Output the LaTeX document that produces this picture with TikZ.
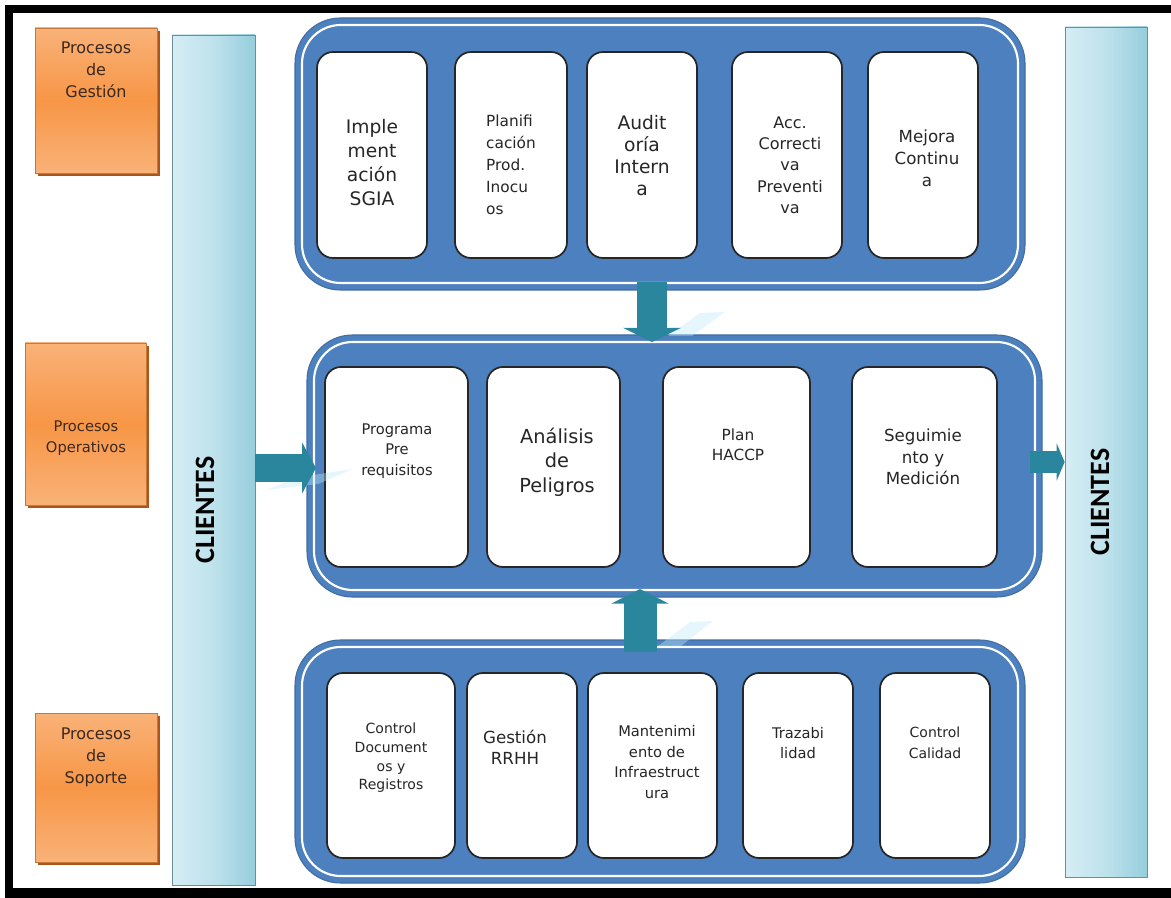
\documentclass[tikz,border=0pt]{standalone}
\usepackage{fontspec}
\setmainfont{DejaVu Sans}
\newfontfamily\clifont{Carlito}
\usetikzlibrary{positioning,arrows.meta,fit,calc}
\definecolor{procblue}{RGB}{76,128,190}
\definecolor{orgtop}{RGB}{249,178,120}
\definecolor{orgmid}{RGB}{247,150,70}
\definecolor{orgshadow}{RGB}{170,85,25}
\definecolor{orgtext}{RGB}{60,40,30}
\definecolor{cliL}{RGB}{214,237,244}
\definecolor{cliM}{RGB}{190,226,236}
\definecolor{cliR}{RGB}{150,205,221}
\definecolor{arrowteal}{RGB}{42,134,156}
\tikzset{
container/.style={
  fill=procblue,
  draw=procblue!85!black,
  line width=0.8pt,
  rounded corners=34pt,
  inner sep=0pt
  },
rim/.style={draw=white, line width=1.6pt, rounded corners=29pt, inner sep=0pt},
inbox/.style={fill=white, draw=black!85, line width=1.3pt, rounded corners=12pt, inner sep=0pt},
orgbox/.style={top color=orgtop, bottom color=orgtop, middle color=orgmid, draw=orgmid!80!black, line width=0.4pt, inner sep=0pt},
orgshade/.style={fill=orgshadow, inner sep=0pt},
clibar/.style={left color=cliL, right color=cliR, middle color=cliM, draw=cliR!70!black, line width=0.5pt, inner sep=0pt},
flow/.style={draw=arrowteal},
gleam/.style={fill=cyan!25, opacity=0.4, draw=none},
lbl/.style={align=center, inner sep=0pt, text=black!85}
}

\begin{document}
\begin{tikzpicture}[x=0.75pt,y=0.75pt,yscale=-1,xscale=1]
\useasboundingbox (0,0) rectangle (1171,898);

% frame
\draw [line width=6pt] (9,898) -- (9,9) -- (1171,9) ;
\draw [line width=7pt] (9,893) -- (1171,893) ;

% process types
\node [orgshade, fit={(38,31) (160,176)}] (shg) {};
\node [orgbox, fit={(35,28) (157,173)}] (pg) {};
\node [orgshade, fit={(28,346) (149,508)}] (sho) {};
\node [orgbox, fit={(25,343) (146,505)}] (po) {};
\node [orgshade, fit={(38,716) (160,865)}] (shs) {};
\node [orgbox, fit={(35,713) (157,862)}] (ps) {};
\node [lbl, text=orgtext, font=\fontsize{12}{16.5}\selectfont] (pgt) at (96,70) {Procesos\\de\\Gestión};
\node [lbl, text=orgtext, font=\fontsize{11}{15.8}\selectfont] (pot) at (86,438) {Procesos\\Operativos};
\node [lbl, text=orgtext, font=\fontsize{12}{16.5}\selectfont] (pst) at (96,757) {Procesos\\de\\Soporte};

% clients
\node [clibar, fit={(172,35) (255,885)}] (cliA) {};
\node [clibar, fit={(1065,27) (1147,877)}] (cliB) {};
\node [font=\clifont\bfseries\fontsize{21}{21}\selectfont, rotate=90, inner sep=0pt] (cliAt) at (205,510) {CLIENTES};
\node [font=\clifont\bfseries\fontsize{21}{21}\selectfont, rotate=90, inner sep=0pt] (cliBt) at (1100,502) {CLIENTES};

% containers
\node [container, fit={(295,18) (1025,290)}] (gest) {};
\node [rim, fit={(302,25) (1018,283)}] (gestr) {};
\node [container, fit={(307,335) (1042,597)}] (oper) {};
\node [rim, fit={(314,342) (1035,590)}] (operr) {};
\node [container, fit={(295,640) (1025,883)}] (sop) {};
\node [rim, fit={(302,647) (1018,876)}] (sopr) {};

% gestion
\node [inbox, fit={(317,52) (427,258)}] (g1) {};
\node [inbox, fit={(455,52) (567,258)}] (g2) {};
\node [inbox, fit={(587,52) (697,258)}] (g3) {};
\node [inbox, fit={(732,52) (842,258)}] (g4) {};
\node [inbox, fit={(868,52) (978,258)}] (g5) {};
\node [lbl, font=\fontsize{14}{18}\selectfont] (g1t) at (372,163) {Imple\\ment\\ación\\SGIA};
\node [lbl, align=left, font=\fontsize{11.5}{16.5}\selectfont] (g2t) at (511,165) {Planifi\\cación\\Prod.\\Inocu\\os};
\node [lbl, font=\fontsize{14}{16.5}\selectfont] (g3t) at (642,156) {Audit\\oría\\Intern\\a};
\node [lbl, font=\fontsize{12}{16}\selectfont] (g4t) at (790,165) {Acc.\\Correcti\\va\\Preventi\\va};
\node [lbl, font=\fontsize{12.5}{16.5}\selectfont] (g5t) at (927,158) {Mejora\\Continu\\a};

% operativos
\node [inbox, fit={(325,367) (468,567)}] (o1) {};
\node [inbox, fit={(487,367) (620,567)}] (o2) {};
\node [inbox, fit={(663,367) (810,567)}] (o3) {};
\node [inbox, fit={(852,367) (997,567)}] (o4) {};
\node [lbl, font=\fontsize{11}{15.5}\selectfont] (o1t) at (397,451) {Programa\\Pre\\requisitos};
\node [lbl, font=\fontsize{14.5}{18.4}\selectfont] (o2t) at (557,462) {Análisis\\de\\Peligros};
\node [lbl, font=\fontsize{11.5}{15}\selectfont] (o3t) at (738,445) {Plan\\HACCP};
\node [lbl, font=\fontsize{12.5}{16}\selectfont] (o4t) at (923,457) {Seguimie\\nto y\\Medición};

% soporte
\node [inbox, fit={(327,673) (455,858)}] (s1) {};
\node [inbox, fit={(467,673) (577,858)}] (s2) {};
\node [inbox, fit={(588,673) (717,858)}] (s3) {};
\node [inbox, fit={(743,673) (853,858)}] (s4) {};
\node [inbox, fit={(880,673) (990,858)}] (s5) {};
\node [lbl, font=\fontsize{10.5}{14}\selectfont] (s1t) at (391,758) {Control\\Document\\os y\\Registros};
\node [lbl, font=\fontsize{12.5}{15.8}\selectfont] (s2t) at (515,747) {Gestión\\RRHH};
\node [lbl, font=\fontsize{11}{15.4}\selectfont] (s3t) at (657,762) {Mantenimi\\ento de\\Infraestruct\\ura};
\node [lbl, font=\fontsize{11}{15.5}\selectfont] (s4t) at (798,743) {Trazabi\\lidad};
\node [lbl, font=\fontsize{10.5}{15.5}\selectfont] (s5t) at (935,743) {Control\\Calidad};

% flows
\coordinate (fa) at (652,282);
\coordinate (fb) at (640,652);
\coordinate (fc) at (1030,462);
\fill [gleam] (668,336) -- (700,313) -- (725,312) -- (692,336) -- cycle;
\fill [gleam] (658,646) -- (690,622) -- (713,621) -- (681,646) -- cycle;
\fill [gleam] (266,490) -- (300,477) -- (353,469) -- (318,484) -- cycle;
\draw [flow, line width=22.5pt, -{Triangle[width=42.75pt, length=10.5pt]}] (fa) -- (fa |- 0,342) ;
\draw [flow, line width=24.75pt, -{Triangle[width=42.75pt, length=11pt]}] (fb) -- (fb |- 0,589) ;
\draw [flow, line width=20.25pt, -{Triangle[width=38pt, length=10.5pt]}] (cliA.east |- 0,468) -- (316,468) ;
\draw [flow, line width=15.75pt, -{Triangle[width=27.75pt, length=6pt]}] (fc) -- (cliB.west |- fc) ;

\end{tikzpicture}
\end{document}
